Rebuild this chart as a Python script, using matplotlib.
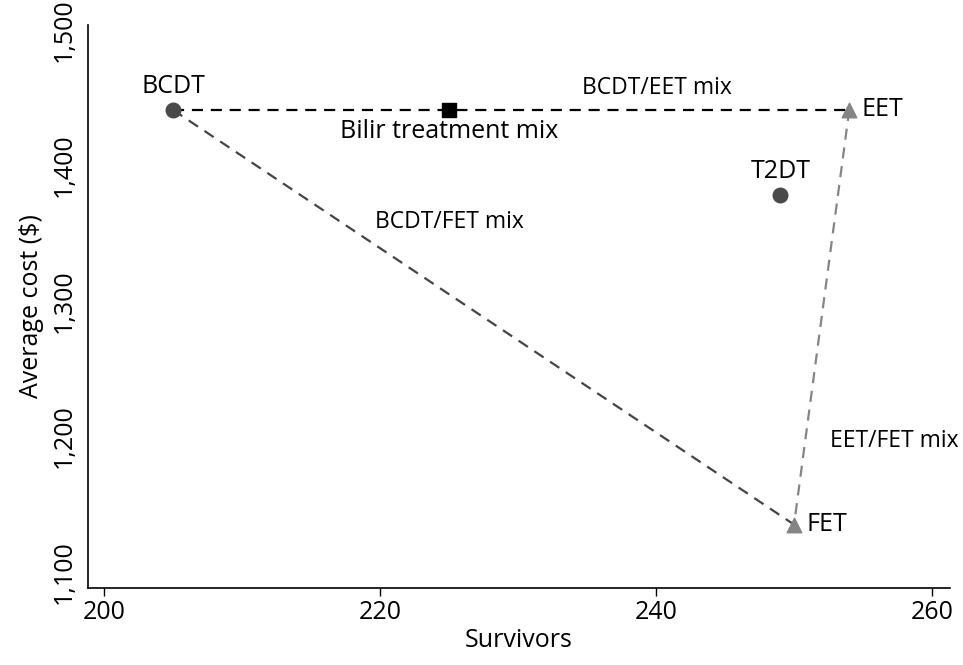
import matplotlib
matplotlib.use("Agg")
import matplotlib.pyplot as plt
from matplotlib.ticker import FuncFormatter

plt.rcParams['font.family'] = ['Open Sans', 'DejaVu Sans']

# strategy points (survivors, average cost)
names = ["BCDT", "Bilir treatment mix", "T2DT", "FET", "EET"]
survivors = [205, 225, 249, 250, 254]
cost = [1441, 1441, 1378, 1135, 1441]

# mixing lines between pure strategies
mix_pairs = [("BCDT", "EET"), ("BCDT", "FET"), ("EET", "FET")]
mix_labels = ["BCDT/EET mix", "BCDT/FET mix", "EET/FET mix"]

x_ticks = [200, 220, 240, 260]
y_ticks = [1100, 1200, 1300, 1400, 1500]

pt = {n: (x, y) for n, x, y in zip(names, survivors, cost)}

fig = plt.figure(figsize=(9.63, 6.65), dpi=100)
ax = fig.add_axes([0.0914, 0.1158, 0.8951, 0.8466])

line_cols = ["black", "#454545", "#858585"]
for (a, b), col in zip(mix_pairs, line_cols):
    ax.plot([pt[a][0], pt[b][0]], [pt[a][1], pt[b][1]], ls=(0, (5, 3.5)),
            color=col, lw=1.6, zorder=1)

# markers
ax.scatter([pt["BCDT"][0], pt["T2DT"][0]], [pt["BCDT"][1], pt["T2DT"][1]],
           s=110, color="#4a4a4a", marker="o", zorder=3)
ax.scatter([pt["FET"][0], pt["EET"][0]], [pt["FET"][1], pt["EET"][1]],
           s=110, color="#858585", marker="^", zorder=3)
ax.scatter([pt["Bilir treatment mix"][0]], [pt["Bilir treatment mix"][1]],
           s=90, color="black", marker="s", zorder=3)

fs = 18
ax.text(pt["BCDT"][0], pt["BCDT"][1] + 8, "BCDT", ha="center", va="bottom", fontsize=fs)
ax.text(pt["Bilir treatment mix"][0], pt["Bilir treatment mix"][1] - 7,
        "Bilir treatment mix", ha="center", va="top", fontsize=fs)
ax.text(pt["T2DT"][0], pt["T2DT"][1] + 8, "T2DT", ha="center", va="bottom", fontsize=fs)
ax.text(pt["EET"][0] + 0.9, pt["EET"][1], "EET", ha="left", va="center", fontsize=fs)
ax.text(pt["FET"][0] + 0.9, pt["FET"][1], "FET", ha="left", va="center", fontsize=fs)

ax.text(240.1, 1457, mix_labels[0], ha="center", va="center", fontsize=16.5)
ax.text(225.0, 1358, mix_labels[1], ha="center", va="center", fontsize=16.5)
ax.text(257.3, 1197, mix_labels[2], ha="center", va="center", fontsize=16.5)

ax.set_xlim(198.84, 261.3)
ax.set_ylim(1088.2, 1503.7)
ax.set_xticks(x_ticks)
ax.set_yticks(y_ticks)
ax.yaxis.set_major_formatter(FuncFormatter(lambda v, p: f"{int(v):,}"))
for lab in ax.get_yticklabels():
    lab.set_rotation(90)
    lab.set_va("center")

ax.tick_params(axis="x", length=6, width=1, labelsize=18, pad=3)
ax.tick_params(axis="y", length=0, labelsize=18, pad=8)
ax.spines["top"].set_visible(False)
ax.spines["right"].set_visible(False)
for s in ["left", "bottom"]:
    ax.spines[s].set_linewidth(1.2)

ax.set_xlabel("Survivors", fontsize=18, labelpad=2)
ax.set_ylabel("Average cost ($)", fontsize=18, labelpad=6)

fig.savefig("out.png", dpi=100)
